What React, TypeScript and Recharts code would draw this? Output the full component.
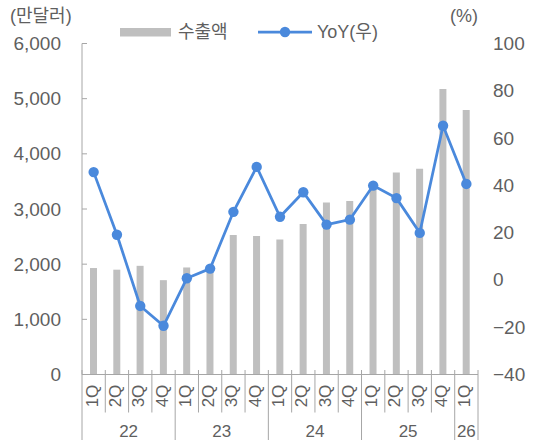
import React from 'react';
import { ComposedChart, Bar, Line, XAxis, YAxis } from 'recharts';

const quarters = ['1Q', '2Q', '3Q', '4Q', '1Q', '2Q', '3Q', '4Q', '1Q', '2Q', '3Q', '4Q', '1Q', '2Q', '3Q', '4Q', '1Q'];
const years = ['22', '22', '22', '22', '23', '23', '23', '23', '24', '24', '24', '24', '25', '25', '25', '25', '26'];
const exportsValues = [1930, 1900, 1970, 1710, 1940, 1920, 2530, 2510, 2445, 2730, 3116, 3146, 3420, 3660, 3730, 5175, 4795];
const yoyValues = [45.6, 19.1, -11, -19.4, 0.7, 4.8, 28.8, 47.8, 26.7, 37.1, 23.4, 25.5, 39.9, 34.6, 19.9, 65.2, 40.6];
const leftTicks = [0, 1000, 2000, 3000, 4000, 5000, 6000];
const rightTicks = [-40, -20, 0, 20, 40, 60, 80, 100];

const data = quarters.map((q, i) => ({ q, year: years[i], exp: exportsValues[i], yoy: yoyValues[i] }));

const FONT = '"Liberation Sans", Arial, "Noto Sans CJK KR", sans-serif';
const TEXT = '#5f5f5f';
const AXIS = '#a6a6a6';
const BAR = '#bfbfbf';
const LINE = '#4a89dc';

const LeftTick = (props: any) => {
  const { x, y, payload } = props;
  return (
    <g>
      <line x1={x} x2={x + 5} y1={y} y2={y} stroke={AXIS} strokeWidth={1} />
      <text x={x - 21} y={y} textAnchor="end" dominantBaseline="central" fontSize={19} fill={TEXT} fontFamily={FONT}>
        {Number(payload.value).toLocaleString('en-US')}
      </text>
    </g>
  );
};

const RightTick = (props: any) => {
  const { x, y, payload } = props;
  const v = Number(payload.value);
  const label = v < 0 ? '\u2212' + Math.abs(v) : String(v);
  return (
    <text x={x + 15} y={y} textAnchor="start" dominantBaseline="central" fontSize={19} fill={TEXT} fontFamily={FONT}>
      {label}
    </text>
  );
};

const XTick = (props: any) => {
  const { x, y, payload, index } = props;
  const half = payload && typeof payload.offset === 'number' && payload.offset > 0 ? payload.offset : 11.65;
  const left = x - half;
  const yr = years[index];
  const isYearStart = index === 0 || years[index - 1] !== yr;
  const isLast = index === quarters.length - 1;
  const count = years.filter((v) => v === yr).length;
  return (
    <g>
      <line x1={left} x2={left} y1={y - 4.5} y2={isYearStart ? 440 : y + 38} stroke={AXIS} strokeWidth={1} />
      {isLast && <line x1={x + half} x2={x + half} y1={y - 4.5} y2={440} stroke={AXIS} strokeWidth={1} />}
      <text
        transform={`translate(${x - 1.5},${y + 21.5}) rotate(-90)`}
        textAnchor="middle"
        dominantBaseline="central"
        fontSize={17}
        fill={TEXT}
        fontFamily={FONT}
      >
        {payload.value}
      </text>
      {isYearStart && (
        <text x={left + count * half} y={y + 57} textAnchor="middle" dominantBaseline="central" fontSize={17} fill={TEXT} fontFamily={FONT}>
          {yr}
        </text>
      )}
    </g>
  );
};

export default function App() {
  return (
    <div style={{ position: 'absolute', left: 0, top: 0, width: 540, height: 440, background: '#fff', fontFamily: FONT }}>
      <ComposedChart width={540} height={440} data={data} margin={{ top: 43.5, right: 0, bottom: 0, left: 0 }}>
        <XAxis
          dataKey="q"
          interval={0}
          height={65.5}
          tickLine={false}
          tickSize={0}
          tickMargin={0}
          axisLine={{ stroke: AXIS, strokeWidth: 1 }}
          tick={<XTick />}
        />
        <YAxis
          yAxisId="left"
          orientation="left"
          width={82}
          domain={[0, 6000]}
          ticks={leftTicks}
          interval={0}
          tickLine={false}
          tickSize={0}
          tickMargin={0}
          axisLine={{ stroke: AXIS, strokeWidth: 1 }}
          tick={<LeftTick />}
        />
        <YAxis
          yAxisId="right"
          orientation="right"
          width={62}
          domain={[-40, 100]}
          ticks={rightTicks}
          interval={0}
          tickLine={false}
          tickSize={0}
          tickMargin={0}
          axisLine={false}
          tick={<RightTick />}
        />
        <Bar yAxisId="left" dataKey="exp" fill={BAR} barSize={7} isAnimationActive={false} />
        <Line
          yAxisId="right"
          dataKey="yoy"
          stroke={LINE}
          strokeWidth={2.75}
          dot={{ r: 5.2, fill: LINE, stroke: LINE, strokeWidth: 0 }}
          activeDot={false}
          isAnimationActive={false}
        />
      </ComposedChart>
      <svg width={540} height={60} style={{ position: 'absolute', left: 0, top: 0, pointerEvents: 'none' }}>
        <text x={10} y={16} dominantBaseline="central" fontSize={18} fill={TEXT} fontFamily={FONT}>(만달러)</text>
        <text x={450} y={16} dominantBaseline="central" fontSize={18} fill={TEXT} fontFamily={FONT}>(%)</text>
        <rect x={120} y={28} width={51} height={8.5} fill={BAR} />
        <text x={178} y={32} dominantBaseline="central" fontSize={18} fill={TEXT} fontFamily={FONT}>수출액</text>
        <line x1={258} x2={312} y1={32} y2={32} stroke={LINE} strokeWidth={2.75} />
        <circle cx={285} cy={32} r={5.2} fill={LINE} />
        <text x={317} y={32} dominantBaseline="central" fontSize={18} fill={TEXT} fontFamily={FONT}>YoY(우)</text>
      </svg>
    </div>
  );
}
